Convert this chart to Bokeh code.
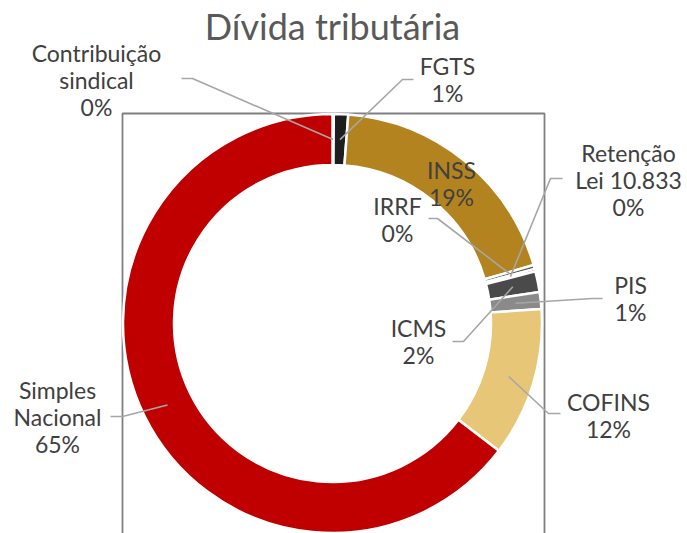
import math
from bokeh.plotting import figure
from bokeh.models import Range1d
from bokeh.core.properties import value
from bokeh.embed import file_html
from bokeh.resources import INLINE

# ---- data ----
categories = ["Contribuição\nsindical", "FGTS", "INSS", "IRRF", "Retenção\nLei 10.833",
              "ICMS", "PIS", "COFINS", "Simples\nNacional"]
shares = [0.1, 1.1, 19.3, 0.3, 0.2, 1.6, 1.3, 11.5, 64.6]
colors = ["#7F6000", "#1E1E1E", "#B38320", "#595959", "#262626",
          "#4A4A4A", "#8A8A8A", "#E8C677", "#C00000"]
title_text = "Dívida tributária"

# ---- layout (screen px, y downward) ----
W, H = 687, 533
PAGE_H = 533
cx, cy = 332, 323
r_out, r_in = 209.5, 158.5
r_lead = 184
label_pos = {   # text centre of label block, leader start, leader elbow
    "Contribuição\nsindical": ((96, 79.5), (181, 78), (192, 78)),
    "FGTS": ((447, 79), (413, 79), (402, 79)),
    "INSS": ((451, 183), None, None),
    "IRRF": ((397, 218.5), (428, 218), (437, 218)),
    "Retenção\nLei 10.833": ((628, 179), (562, 178), (550, 178)),
    "ICMS": ((418, 341), (452, 341), (463, 341)),
    "PIS": ((630, 297.5), (602, 298), (592, 298)),
    "COFINS": ((608, 414.5), (560, 413), (548, 413)),
    "Simples\nNacional": ((57, 416.5), (110, 416), (122, 416)),
}
line_gap = 27


def Y(s):
    return PAGE_H - s


p = figure(width=W, height=H, x_range=Range1d(0, W), y_range=Range1d(PAGE_H - H, PAGE_H),
           output_backend="svg", toolbar_location=None, min_border=0,
           x_axis_location=None, y_axis_location=None)
p.grid.visible = False
p.outline_line_color = None
p.background_fill_color = "white"
p.border_fill_color = "white"

# plot-area frame
p.line([122, 122, 544, 544], [Y(560), Y(113), Y(113), Y(560)], line_color="#7F7F7F", line_width=1.8)

# donut
total = sum(shares)
starts, ends, mids = [], [], []
acc = 0.0
for v in shares:
    a0 = acc / total * 2 * math.pi
    acc += v
    a1 = acc / total * 2 * math.pi
    starts.append(math.pi / 2 - a0)
    ends.append(math.pi / 2 - a1)
    mids.append((a0 + a1) / 2)

p.annular_wedge(x=[cx] * len(shares), y=[Y(cy)] * len(shares), inner_radius=r_in, outer_radius=r_out,
                start_angle=starts, end_angle=ends, direction="clock",
                fill_color=colors, line_color="white", line_width=2.5)

# leader lines
xs, ys = [], []
for cat, m in zip(categories, mids):
    _, st, el = label_pos[cat]
    if st is None:
        continue
    px = cx + r_lead * math.sin(m)
    py = cy - r_lead * math.cos(m)
    xs.append([st[0], el[0], px])
    ys.append([Y(st[1]), Y(el[1]), Y(py)])
p.multi_line(xs, ys, line_color="#A6A6A6", line_width=1.6)

# labels
tx, ty, tt = [], [], []
for cat, v in zip(categories, shares):
    (lx, ly), _, _ = label_pos[cat]
    lines = cat.split("\n") + [f"{math.floor(v / total * 100 + 0.5)}%"]
    n = len(lines)
    for i, t in enumerate(lines):
        tx.append(lx)
        ty.append(Y(ly + (i - (n - 1) / 2) * line_gap))
        tt.append(t)
p.text(tx, ty, text=tt, text_font=value("Lato"), text_font_size="23px", text_color="#404040",
       text_align="center", text_baseline="middle")

p.text([332], [Y(25)], text=[title_text], text_font=value("Lato"), text_font_size="36px",
       text_color="#595959", text_align="center", text_baseline="middle")

open("out.html", "w").write(file_html(p, INLINE))
